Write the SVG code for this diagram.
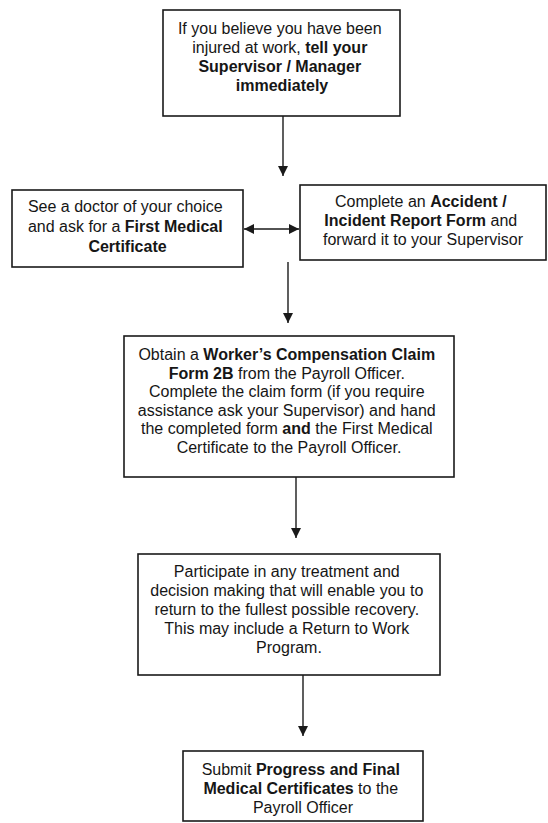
<svg xmlns="http://www.w3.org/2000/svg" width="548" height="823" viewBox="0 0 548 823">
  <style>
    .box { fill: #fff; stroke: #1a1a1a; stroke-width: 1.6; }
    .txt { font-family: "Liberation Sans", Arial, sans-serif; font-size: 16px; fill: #161616; text-anchor: middle; }
    .b { font-weight: bold; }
    .conn { stroke: #1a1a1a; stroke-width: 1.4; fill: none; }
  </style>
  <defs>
    <marker id="head" viewBox="0 0 10 10" refX="10" refY="5" markerWidth="10" markerHeight="10" markerUnits="userSpaceOnUse" orient="auto-start-reverse">
      <path d="M0,0 L10,5 L0,10 Z" fill="#1a1a1a"/>
    </marker>
  </defs>
  <rect width="548" height="823" fill="#fff"/>

  <g id="connectors">
    <line class="conn" x1="283" y1="116" x2="283" y2="176" marker-end="url(#head)"/>
    <line class="conn" x1="244" y1="229" x2="299" y2="229" marker-start="url(#head)" marker-end="url(#head)"/>
    <line class="conn" x1="288" y1="262" x2="288" y2="323" marker-end="url(#head)"/>
    <line class="conn" x1="296" y1="477" x2="296" y2="538" marker-end="url(#head)"/>
    <line class="conn" x1="303" y1="675" x2="303" y2="736" marker-end="url(#head)"/>
  </g>

  <g id="report-injury">
    <rect class="box" x="163" y="10" width="237" height="106"/>
    <text class="txt">
      <tspan x="282" y="34">If you believe you have been</tspan>
      <tspan x="282" y="53">injured at work, <tspan class="b">tell your</tspan></tspan>
      <tspan x="282" y="72" class="b">Supervisor / Manager</tspan>
      <tspan x="282" y="91" class="b">immediately</tspan>
    </text>
  </g>

  <g id="see-doctor">
    <rect class="box" x="12" y="190" width="231" height="77"/>
    <text class="txt">
      <tspan x="127.5" y="212">See a doctor of your choice</tspan>
      <tspan x="127.5" y="232">and ask for a <tspan class="b">First Medical</tspan></tspan>
      <tspan x="127.5" y="252" class="b">Certificate</tspan>
    </text>
  </g>

  <g id="incident-report">
    <rect class="box" x="300" y="185" width="246" height="75"/>
    <text class="txt">
      <tspan x="423" y="207">Complete an <tspan class="b">Accident /</tspan></tspan>
      <tspan x="423" y="226"><tspan class="b">Incident Report Form</tspan> and</tspan>
      <tspan x="423" y="245">forward it to your Supervisor</tspan>
    </text>
  </g>

  <g id="claim-form">
    <rect class="box" x="124" y="336" width="330" height="141"/>
    <text class="txt">
      <tspan x="289" y="360">Obtain a <tspan class="b">Worker’s Compensation Claim</tspan></tspan>
      <tspan x="289" y="378.5"><tspan class="b">Form 2B</tspan> from the Payroll Officer.</tspan>
      <tspan x="289" y="397">Complete the claim form (if you require</tspan>
      <tspan x="289" y="415.5">assistance ask your Supervisor) and hand</tspan>
      <tspan x="289" y="434">the completed form <tspan class="b">and</tspan> the First Medical</tspan>
      <tspan x="289" y="452.5">Certificate to the Payroll Officer.</tspan>
    </text>
  </g>

  <g id="treatment">
    <rect class="box" x="138" y="554" width="302" height="121"/>
    <text class="txt">
      <tspan x="289" y="577">Participate in any treatment and</tspan>
      <tspan x="289" y="596">decision making that will enable you to</tspan>
      <tspan x="289" y="615">return to the fullest possible recovery.</tspan>
      <tspan x="289" y="634">This may include a Return to Work</tspan>
      <tspan x="289" y="653">Program.</tspan>
    </text>
  </g>

  <g id="certificates">
    <rect class="box" x="183" y="751" width="240" height="70"/>
    <text class="txt">
      <tspan x="303" y="775">Submit <tspan class="b">Progress and Final</tspan></tspan>
      <tspan x="303" y="794"><tspan class="b">Medical Certificates</tspan> to the</tspan>
      <tspan x="303" y="813">Payroll Officer</tspan>
    </text>
  </g>
</svg>
